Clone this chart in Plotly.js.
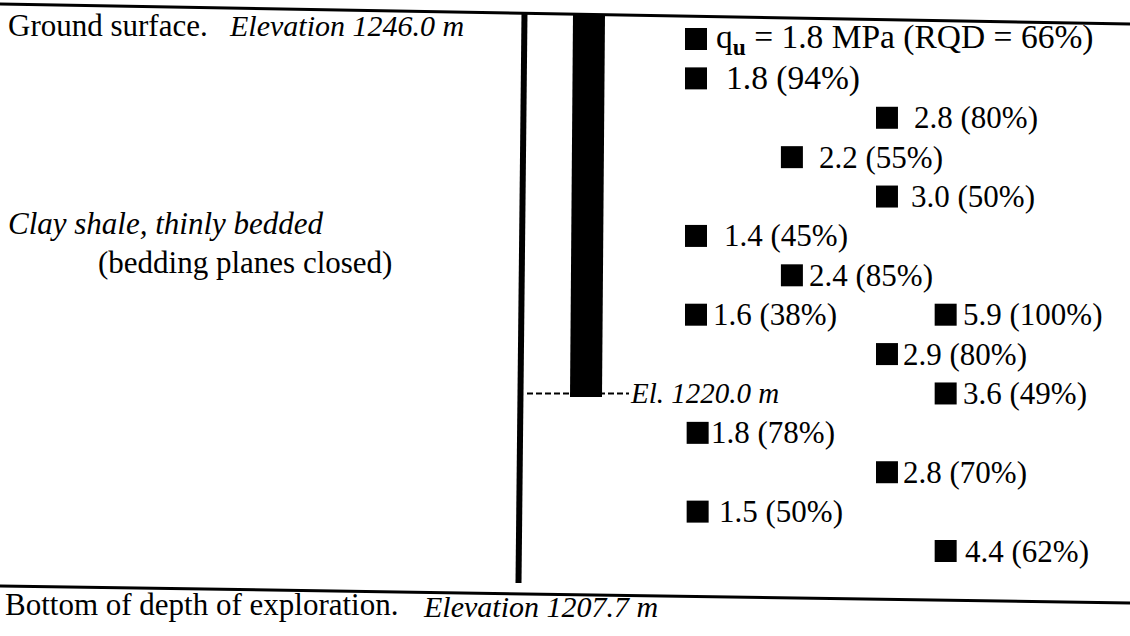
<!DOCTYPE html>
<html>
<head>
<meta charset="utf-8">
<script src="https://cdn.plot.ly/plotly-3.0.1.min.js"></script>
<style>
  html, body { margin: 0; padding: 0; background: #ffffff; }
  #chart { width: 1130px; height: 636px; }
</style>
</head>
<body>
<div id="chart"></div>
<script>
// ---------------- DATA ----------------
// Unconfined compressive strength q_u (MPa) of core samples, in depth order
const quMPa   = [1.8, 1.8, 2.8, 2.2, 3.0, 1.4, 2.4, 1.6, 5.9, 2.9, 3.6, 1.8, 2.8, 1.5, 4.4];
// Rock quality designation (%) for the same samples
const rqdPct  = [66, 94, 80, 55, 50, 45, 85, 38, 100, 80, 49, 78, 70, 50, 62];
// Depth rank of each sample (row of the log, 0 = shallowest)
const depthRow = [0, 1, 2, 3, 4, 5, 6, 7, 7, 8, 9, 10, 11, 12, 13];
// Stagger column used by the log to keep labels apart
const staggerCol = [0, 0, 2.31, 1.16, 2.31, 0, 1.16, 0, 3.02, 2.31, 3.02, 0.02, 2.31, 0.02, 3.02];

// Elevations (m)
const groundElev = 1246.0;
const bottomElev = 1207.7;
const markElev   = 1220.0;
const markRow    = 9;     // log row at which El. 1220.0 m is marked

// Descriptive texts
const groundText  = 'Ground surface.';
const bottomText  = 'Bottom of depth of exploration.';
const soilText    = 'Clay shale, thinly bedded';
const soilNote    = '(bedding planes closed)';

// ---------------- LAYOUT HINTS (styling only) ----------------
const W = 1130, H = 636;
const FONT = 'Liberation Serif, Times New Roman, serif';
const FS = 31;
const labelGapPx  = [9, 19, 16, 16, 13, 17, 6, 6, 6, 5, 6, 2, 5, 10, 8];
const labelFontPx = [33.5, 33.5, 31, 31, 31, 31, 31, 31, 31, 31, 31, 31, 31, 31, 31];
const MARK = 22;

// x axis: column units ; y axis: log rows (reversed)
const xPx0 = 696, xPxPerCol = 82.67;
const yPx0 = 39,  yPxPerRow = 39.385;
const xRange = [(0 - xPx0) / xPxPerCol, (W - xPx0) / xPxPerCol];
const yRange = [(H - yPx0) / yPxPerRow, (0 - yPx0) / yPxPerRow];

const px = x => x / W;
const py = y => 1 - y / H;

// ---------------- TRACES ----------------
const markers = {
  type: 'scatter',
  mode: 'markers',
  x: staggerCol,
  y: depthRow,
  marker: { symbol: 'square', size: MARK, color: '#000000', line: { width: 0 } },
  hoverinfo: 'skip',
  showlegend: false
};

// ---------------- ANNOTATIONS ----------------
const annotations = [];
quMPa.forEach((q, i) => {
  let txt;
  if (i === 0) {
    txt = 'q<sub><b>u</b></sub> = ' + q.toFixed(1) + ' MPa (RQD = ' + rqdPct[i] + '%)';
  } else {
    txt = q.toFixed(1) + ' (' + rqdPct[i] + '%)';
  }
  annotations.push({
    x: staggerCol[i], y: depthRow[i], xref: 'x', yref: 'y',
    text: txt, showarrow: false, xanchor: 'left', yanchor: 'middle',
    xshift: MARK / 2 + labelGapPx[i] - 2,
    font: { family: FONT, size: labelFontPx[i], color: '#000' }
  });
});

function textAt(x, y, t, italic, size) {
  annotations.push({
    x: px(x), y: py(y), xref: 'paper', yref: 'paper',
    text: italic ? '<i>' + t + '</i>' : t,
    showarrow: false, xanchor: 'left', yanchor: 'middle',
    font: { family: FONT, size: size || FS, color: '#000' }
  });
}
textAt(6, 25, groundText, false);
textAt(227, 25, 'Elevation ' + groundElev.toFixed(1) + ' m', true, 30);
textAt(6, 223, soilText, true);
textAt(96, 262, soilNote, false);
textAt(3, 604, bottomText, false);
textAt(421, 606, 'Elevation ' + bottomElev.toFixed(1) + ' m', true, 30);

// El. 1220.0 m mark (in log rows)
annotations.push({
  x: px(628), y: markRow, xref: 'paper', yref: 'y',
  text: '<i>El. ' + markElev.toFixed(1) + ' m</i>',
  showarrow: false, xanchor: 'left', yanchor: 'middle',
  font: { family: FONT, size: 29, color: '#000' }
});

// ---------------- SHAPES ----------------
const shapes = [
  // ground surface line
  { type: 'line', xref: 'paper', yref: 'paper', x0: px(0), y0: py(4), x1: px(W), y1: py(24),
    line: { color: '#000', width: 3 } },
  // bottom of exploration line
  { type: 'line', xref: 'paper', yref: 'paper', x0: px(0), y0: py(586), x1: px(W), y1: py(603),
    line: { color: '#000', width: 3 } },
  // boring line
  { type: 'line', xref: 'paper', yref: 'paper', x0: px(524.5), y0: py(13), x1: px(518.5), y1: py(583),
    line: { color: '#000', width: 6 } },
  // dashed elevation mark
  { type: 'line', xref: 'paper', yref: 'y', x0: px(527), y0: markRow, x1: px(629), y1: markRow,
    line: { color: '#000', width: 2, dash: '6px,3px' } },
  // thick casing / core bar
  { type: 'path', xref: 'paper', yref: 'paper',
    path: 'M ' + px(573) + ' ' + py(14) + ' L ' + px(605) + ' ' + py(14.5) +
          ' L ' + px(602) + ' ' + py(397) + ' L ' + px(570) + ' ' + py(397) + ' Z',
    fillcolor: '#000', line: { color: '#000', width: 0 } }
];

const layout = {
  width: W, height: H,
  margin: { l: 0, r: 0, t: 0, b: 0, pad: 0 },
  paper_bgcolor: '#ffffff', plot_bgcolor: '#ffffff',
  xaxis: { range: xRange, visible: false, fixedrange: true },
  yaxis: { range: yRange, visible: false, fixedrange: true },
  showlegend: false,
  shapes: shapes,
  annotations: annotations,
  font: { family: FONT, size: FS, color: '#000' }
};

Plotly.newPlot('chart', [markers], layout, { displayModeBar: false, staticPlot: true });
</script>
</body>
</html>
